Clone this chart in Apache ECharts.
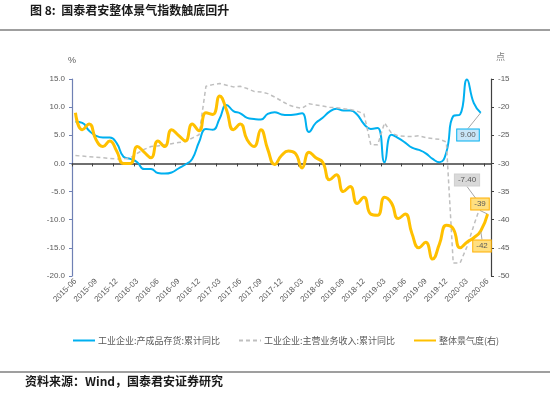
<!DOCTYPE html>
<html>
<head>
<meta charset="utf-8">
<script src="https://cdn.jsdelivr.net/npm/echarts@6/dist/echarts.min.js"></script>
<style>
  html, body { margin: 0; padding: 0; background: #fff; }
  #main { width: 550px; height: 397px; }
</style>
</head>
<body>
<div id="main"></div>
<script>
// monthly, 2015-06 .. 2020-06
const months = [
  '2015-06', '2015-07', '2015-08', '2015-09', '2015-10', '2015-11', '2015-12',
  '2016-01', '2016-02', '2016-03', '2016-04', '2016-05', '2016-06', '2016-07',
  '2016-08', '2016-09', '2016-10', '2016-11', '2016-12', '2017-01', '2017-02',
  '2017-03', '2017-04', '2017-05', '2017-06', '2017-07', '2017-08', '2017-09',
  '2017-10', '2017-11', '2017-12', '2018-01', '2018-02', '2018-03', '2018-04',
  '2018-05', '2018-06', '2018-07', '2018-08', '2018-09', '2018-10', '2018-11',
  '2018-12', '2019-01', '2019-02', '2019-03', '2019-04', '2019-05', '2019-06',
  '2019-07', '2019-08', '2019-09', '2019-10', '2019-11', '2019-12', '2020-01',
  '2020-02', '2020-03', '2020-04', '2020-05', '2020-06'
]

// 工业企业:产成品存货:累计同比 (%)
const inventory = [
  7.4, 7.2, 5.8, 4.9, 4.6, 4.6, 3.6, 1.2, 0.8, 0.2,
  -1.0, -1.0, -1.7, -1.8, -1.6, -0.9, -0.2, 0.8, 3.8, 6.1,
  6.0, 8.0, 10.4, 9.3, 8.9, 8.1, 7.9, 7.8, 8.8, 9.1,
  8.7, 8.6, 8.7, 8.9, 5.6, 7.2, 8.1, 9.2, 9.7, 9.4,
  9.4, 8.7, 7.0, 6.1, 6.3, 0.2, 5.1, 4.5, 3.7, 2.8,
  2.4, 1.8, 0.8, 0.2, 2.0, 8.4, 8.7, 14.9, 10.7, 9.0,
  null
]

// 工业企业:主营业务收入:累计同比 (%)
const revenue = [
  1.4, 1.3, 1.2, 1.1, 1.0, 0.9, 0.8, 0.8, 1.0, 1.8,
  2.5, 3.0, 3.1, 3.3, 3.5, 3.7, 3.9, 4.5, 5.1, 13.7,
  14.0, 14.2, 13.9, 13.6, 13.7, 13.3, 12.8, 12.7, 12.4, 11.8,
  11.1, 10.4, 10.0, 9.8, 10.6, 10.4, 10.2, 10.0, 9.9, 9.7,
  9.6, 9.3, 8.8, 3.3, 3.3, 7.2, 5.4, 4.9, 4.8, 4.8,
  4.9, 4.6, 4.4, 4.3, 3.8, -17.7, -17.7, -14.8, -11.0, -7.4,
  null
]

// 整体景气度 (点, right axis)
const climate = [
  -21.0, -24.0, -23.0, -25.8, -27.0, -26.0, -27.8, -30.0, -30.0, -27.0,
  -28.0, -29.0, -26.0, -27.0, -24.0, -25.0, -26.0, -23.0, -24.2, -21.0,
  -21.3, -18.0, -20.5, -24.0, -23.0, -25.8, -27.0, -24.0, -27.5, -30.2,
  -28.6, -27.8, -28.2, -30.8, -28.0, -29.0, -29.8, -32.9, -32.0, -35.0,
  -34.1, -37.1, -36.0, -39.0, -39.2, -36.0, -37.0, -39.8, -39.0, -42.5,
  -45.0, -44.0, -47.0, -44.3, -41.0, -41.6, -45.0, -44.0, -43.2, -42.0,
  -39.0
]

const seriesNames = ['工业企业:产成品存货:累计同比', '工业企业:主营业务收入:累计同比', '整体景气度(右)']

// which points carry a value box
const inventoryLabelAt = [59]
const revenueLabelAt = [59]
const climateLabelAt = [59, 60]

const labelBase = {
  show: true,
  fontSize: 8,
  color: '#595959',
  padding: [2, 3, 1, 3],
  borderWidth: 1
}

function withLabels(values, idxs, style, fmt) {
  return values.map((v, i) => {
    if (!idxs.includes(i)) return v
    return {
      value: v,
      symbol: 'circle',
      symbolSize: 1,
      label: Object.assign({}, labelBase, style, { formatter: () => fmt(v) })
    }
  })
}

const chart = echarts.init(document.getElementById('main'))

const font = "'Liberation Sans', 'Noto Sans CJK SC', sans-serif"
const cjk = "'Noto Sans CJK SC', sans-serif"

const option = {
  animation: false,
  textStyle: { fontFamily: font },
  grid: { left: 72, top: 79, width: 419, height: 197, containLabel: false },
  legend: {
    data: seriesNames,
    left: 67,
    top: 331,
    itemWidth: 22,
    itemHeight: 10,
    itemGap: 18,
    itemStyle: { opacity: 0 },
    textStyle: { fontSize: 9, color: '#595959', fontFamily: cjk, padding: [0, 0, 0, -2] }
  },
  xAxis: [
    {
      type: 'category',
      data: months,
      boundaryGap: true,
      axisLine: { show: false, onZero: false },
      axisTick: { show: false },
      axisLabel: { interval: 2, rotate: 45, fontSize: 8, color: '#595959', margin: 4 }
    },
    {
      type: 'category',
      data: months,
      boundaryGap: true,
      position: 'bottom',
      axisLine: { show: true, onZero: true, onZeroAxisIndex: 0, lineStyle: { color: '#404040', width: 1.5 } },
      axisTick: { show: true, interval: 2, length: 3, lineStyle: { color: '#404040' } },
      axisLabel: { show: false }
    }
  ],
  yAxis: [
    {
      type: 'value',
      min: -20,
      max: 15,
      interval: 5,
      axisLine: { show: true, lineStyle: { color: '#6f80b4', width: 1.2 } },
      axisTick: { show: true, length: 3, lineStyle: { color: '#6f80b4' } },
      splitLine: { show: false },
      axisLabel: { formatter: v => v.toFixed(1), fontSize: 8, color: '#595959', margin: 7 }
    },
    {
      type: 'value',
      position: 'right',
      min: -50,
      max: -15,
      interval: 5,
      axisLine: { show: true, lineStyle: { color: '#404040', width: 1.2 } },
      axisTick: { show: true, length: 3, lineStyle: { color: '#404040' } },
      splitLine: { show: false },
      axisLabel: { fontSize: 8, color: '#595959', margin: 7 }
    }
  ],
  series: [
    {
      name: seriesNames[0],
      type: 'line',
      xAxisIndex: 0,
      yAxisIndex: 0,
      smooth: 0.5,
      symbol: 'none',
      showAllSymbol: true,
      lineStyle: { color: '#00B0F0', width: 2 },
      itemStyle: { color: '#00B0F0' },
      data: withLabels(inventory, inventoryLabelAt,
        { backgroundColor: '#C9E6F8', borderColor: '#00B0F0' }, v => v.toFixed(2)),
      labelLayout: p => ({ x: 468, y: 135, align: 'center', verticalAlign: 'middle' }),
      labelLine: { show: true, lineStyle: { color: '#A6A6A6', width: 1 } }
    },
    {
      name: seriesNames[1],
      type: 'line',
      xAxisIndex: 0,
      yAxisIndex: 0,
      smooth: false,
      symbol: 'none',
      showAllSymbol: true,
      lineStyle: { color: '#BFBFBF', width: 1.5, type: [4, 3] },
      itemStyle: { color: '#BFBFBF' },
      data: withLabels(revenue, revenueLabelAt,
        { backgroundColor: '#D9D9D9', borderColor: '#D0D0D0' }, v => v.toFixed(2)),
      labelLayout: p => ({ x: 467, y: 180, align: 'center', verticalAlign: 'middle' }),
      labelLine: { show: true, lineStyle: { color: '#A6A6A6', width: 1 } }
    },
    {
      name: seriesNames[2],
      type: 'line',
      xAxisIndex: 0,
      yAxisIndex: 1,
      smooth: 0.5,
      symbol: 'none',
      showAllSymbol: true,
      lineStyle: { color: '#FFC000', width: 3 },
      itemStyle: { color: '#FFC000' },
      data: withLabels(climate, climateLabelAt,
        { backgroundColor: '#FFDF80', borderColor: '#FFB000' }, v => v.toFixed(0)),
      labelLayout: p => p.dataIndex === 60
        ? { x: 480, y: 204, align: 'center', verticalAlign: 'middle' }
        : { x: 482, y: 246, align: 'center', verticalAlign: 'middle' },
      labelLine: { show: true, lineStyle: { color: '#A6A6A6', width: 1 } }
    }
  ],
  graphic: [
    {
      type: 'text', left: 30, top: 4,
      style: { text: '图 8:  国泰君安整体景气指数触底回升', fontSize: 12, fontWeight: 'bold', fontFamily: cjk, fill: '#1a1a1a' }
    },
    { type: 'line', shape: { x1: 0, y1: 30, x2: 550, y2: 30 }, style: { stroke: '#7f7f7f', lineWidth: 1.5 } },
    { type: 'text', left: 68, top: 56, style: { text: '%', fontSize: 9, fill: '#595959', fontFamily: font } },
    { type: 'text', left: 496, top: 52, style: { text: '点', fontSize: 9, fill: '#7f7f7f', fontFamily: cjk } },
    { type: 'line', shape: { x1: 0, y1: 372, x2: 550, y2: 372 }, style: { stroke: '#7f7f7f', lineWidth: 1.5 } },
    {
      type: 'text', left: 25, top: 375,
      style: { text: '资料来源：Wind，国泰君安证券研究', fontSize: 12, fontWeight: 'bold', fontFamily: cjk, fill: '#1a1a1a' }
    }
  ]
}

chart.setOption(option)
</script>
</body>
</html>
